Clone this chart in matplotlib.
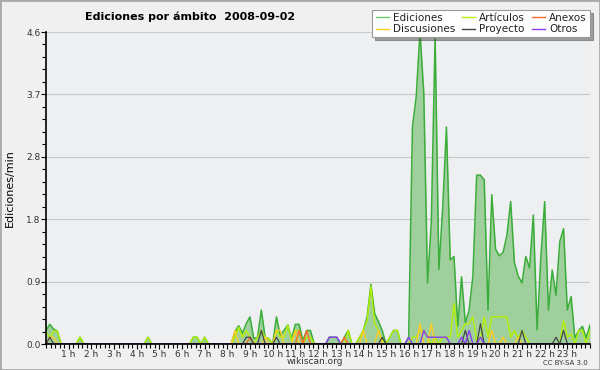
import numpy as np
import matplotlib
matplotlib.use("Agg")
import matplotlib.pyplot as plt
from matplotlib.ticker import MultipleLocator, FixedLocator

# values every 10 minutes, 00:00 .. 24:00 (edits per minute)
ediciones = [
    0.2, 0.29, 0.22, 0.19, 0, 0,
    0, 0, 0, 0.1, 0, 0,
    0, 0, 0, 0, 0, 0,
    0, 0, 0, 0, 0, 0,
    0, 0, 0, 0.1, 0, 0,
    0, 0, 0, 0, 0, 0,
    0, 0, 0, 0.1, 0.1, 0,
    0.1, 0, 0, 0, 0, 0,
    0, 0, 0.18, 0.27, 0.16, 0.3,
    0.4, 0.08, 0.1, 0.5, 0.1, 0.08,
    0, 0.4, 0.13, 0.2, 0.28, 0.08,
    0.29, 0.29, 0.05, 0.2, 0.2, 0,
    0, 0, 0, 0.1, 0.1, 0.1,
    0, 0.1, 0.2, 0, 0, 0.1,
    0.2, 0.4, 0.88, 0.45, 0.33, 0.2,
    0, 0.1, 0.2, 0.2, 0, 0,
    0.1, 3.2, 3.65, 4.6, 3.7, 0.9,
    1.8, 4.55, 1.1, 2.0, 3.2, 1.24,
    1.29, 0.26, 0.99, 0.31, 0.5, 1.0,
    2.49, 2.49, 2.42, 0.5, 2.2, 1.4,
    1.3, 1.35, 1.6, 2.1, 1.2, 1.0,
    0.9, 1.29, 1.12, 1.9, 0.21, 1.29,
    2.1, 0.5, 1.09, 0.72, 1.51, 1.7,
    0.5, 0.7, 0.09, 0.2, 0.26, 0.09,
    0.28,
]
articulos = [
    0.18, 0.1, 0.19, 0.19, 0, 0,
    0, 0, 0, 0.1, 0, 0,
    0, 0, 0, 0, 0, 0,
    0, 0, 0, 0, 0, 0,
    0, 0, 0, 0.1, 0, 0,
    0, 0, 0, 0, 0, 0,
    0, 0, 0, 0.1, 0.1, 0,
    0.1, 0, 0, 0, 0, 0,
    0, 0, 0.1, 0.25, 0.1, 0.2,
    0.1, 0, 0.1, 0.2, 0.1, 0.08,
    0, 0.2, 0.1, 0.1, 0.28, 0.05,
    0.2, 0.2, 0, 0.1, 0.1, 0,
    0, 0, 0, 0, 0, 0,
    0, 0, 0.2, 0, 0, 0.1,
    0.2, 0.35, 0.85, 0.3, 0.2, 0.05,
    0, 0.1, 0.2, 0.2, 0, 0,
    0, 0.1, 0.1, 0.2, 0.2, 0.1,
    0, 0.1, 0, 0.1, 0.1, 0.1,
    0.6, 0.1, 0.2, 0.3, 0.3, 0.4,
    0.05, 0.1, 0.4, 0.1, 0.4, 0.4,
    0.4, 0.4, 0.4, 0.1, 0.2, 0.08,
    0.2, 0.1, 0, 0, 0, 0,
    0, 0, 0, 0, 0, 0.35,
    0.1, 0.15, 0, 0.2, 0.2, 0,
    0.2,
]
# sparse series: {10-minute slot: value}
anexos_pts = {54: 0.1, 67: 0.2, 69: 0.2, 79: 0.1}
discusiones_pts = {1: 0.1, 2: 0.1, 50: 0.2, 58: 0.1, 61: 0.2, 62: 0.2, 66: 0.2,
                   84: 0.2, 88: 0.2, 99: 0.3, 102: 0.3, 118: 0.2, 121: 0.1, 125: 0.1}
proyecto_pts = {1: 0.1, 53: 0.1, 54: 0.1, 57: 0.2, 61: 0.1, 89: 0.1,
                111: 0.2, 115: 0.3, 126: 0.2, 135: 0.1, 137: 0.2}
otros_pts = {75: 0.1, 76: 0.1, 77: 0.1, 96: 0.1, 100: 0.2, 101: 0.1, 102: 0.1,
             103: 0.1, 104: 0.1, 105: 0.1, 106: 0.1, 110: 0.1, 112: 0.2, 115: 0.1}

hour_labels = [f"{h} h" for h in range(1, 24)]

n = len(ediciones)
hours = np.arange(n) / 6.0


def expand(pts):
    s = np.zeros(n)
    for k, v in pts.items():
        s[k] = v
    return s


anexos = expand(anexos_pts)
discusiones = expand(discusiones_pts)
proyecto = expand(proyecto_pts)
otros = expand(otros_pts)

c_ed_line = "#3aad3a"
c_ed_fill = "#9fcf9c"
c_art = "#b4f000"
c_anx = "#ff6a2a"
c_dis = "#ffcc22"
c_pro = "#444444"
c_otr = "#8a3cf0"

fig = plt.figure(figsize=(6, 3.7), dpi=100, facecolor="#f0f0f0")
ax = fig.add_axes([46 / 600, 26 / 370, 544 / 600, 312 / 370])
ax.set_facecolor("#eeeff1")

ax.fill_between(hours, 0, ediciones, color=c_ed_fill, lw=0)
ax.plot(hours, ediciones, color=c_ed_line, lw=1.1)
ax.plot(hours, articulos, color=c_art, lw=1.0)
ax.plot(hours, discusiones, color=c_dis, lw=1.0)
ax.plot(hours, anexos, color=c_anx, lw=1.0)
ax.plot(hours, proyecto, color=c_pro, lw=0.9)
ax.plot(hours, otros, color=c_otr, lw=1.0)

ax.set_xlim(0, 24)
ax.set_ylim(0, 4.6)

yt = np.linspace(0, 4.6, 6)
ax.yaxis.set_major_locator(FixedLocator(yt))
ax.set_yticklabels([f"{v:.1f}" for v in yt])
ax.yaxis.set_minor_locator(MultipleLocator(4.6 / 25))
ax.xaxis.set_major_locator(FixedLocator(range(1, 24)))
ax.set_xticklabels(hour_labels)
ax.xaxis.set_minor_locator(MultipleLocator(0.2))

ax.tick_params(axis="both", which="major", labelsize=6.5, colors="#000000",
               labelcolor="#333333", length=3.5, width=0.8, pad=0.5)
ax.tick_params(axis="both", which="minor", length=3, width=0.8)
ax.grid(axis="y", color="#c8c8c8", lw=0.8)
ax.set_axisbelow(True)
for s in ["top", "right"]:
    ax.spines[s].set_visible(False)
for s in ["left", "bottom"]:
    ax.spines[s].set_linewidth(1.2)

ax.set_ylabel("Ediciones/min", fontsize=8, labelpad=8)

fig.text(85 / 600, 1 - 17 / 370, "Ediciones por ámbito  2008-09-02",
         fontsize=8, fontweight="bold", ha="left", va="center")
fig.text(315 / 600, 1 - 362 / 370, "wikiscan.org", fontsize=6.5,
         ha="center", va="center", color="#333333")
fig.text(588 / 600, 1 - 363 / 370, "CC BY-SA 3.0", fontsize=5,
         ha="right", va="center", color="#333333")

handles = [
    plt.Line2D([], [], color="#66cc66", lw=1),
    plt.Line2D([], [], color=c_dis, lw=1),
    plt.Line2D([], [], color=c_art, lw=1),
    plt.Line2D([], [], color=c_pro, lw=1),
    plt.Line2D([], [], color=c_anx, lw=1),
    plt.Line2D([], [], color=c_otr, lw=1),
]
labels = ["Ediciones", "Discusiones", "Artículos", "Proyecto", "Anexos", "Otros"]
leg = fig.legend(handles, labels, ncol=3, loc="upper right",
                 bbox_to_anchor=(590 / 600, 1 - 10 / 370), fontsize=7.5,
                 frameon=True, fancybox=False, shadow=True, handlelength=1.3,
                 handletextpad=0.4, columnspacing=0.6, labelspacing=0.1,
                 borderpad=0.3, borderaxespad=0)
leg.get_frame().set_edgecolor("#999999")
leg.get_frame().set_linewidth(0.8)
for t in leg.get_texts():
    t.set_color("#222222")

fig.patches.append(plt.Rectangle((0, 0), 1, 1, transform=fig.transFigure,
                                 fill=False, edgecolor="#aaaaaa", lw=2))

fig.savefig("out.png", dpi=100, facecolor=fig.get_facecolor())
